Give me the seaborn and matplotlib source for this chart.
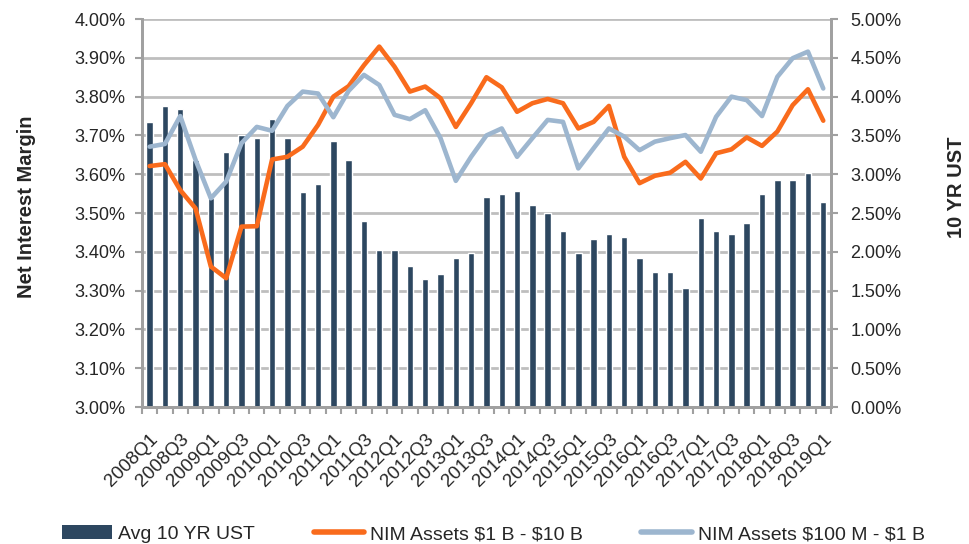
import numpy as np
import pandas as pd
import seaborn as sns
from matplotlib import pyplot as plt
from matplotlib.lines import Line2D
from matplotlib.patches import Patch
from matplotlib.ticker import FixedLocator, FuncFormatter, MultipleLocator

# quarterly data, 2008Q1 - 2019Q1
quarters = [f"{y}Q{q}" for y in range(2008, 2020) for q in range(1, 5)][:45]

ust = [
    3.67, 3.88, 3.84, 3.18, 2.69, 3.29, 3.50, 3.47, 3.71, 3.47,
    2.77, 2.88, 3.43, 3.18, 2.40, 2.02, 2.02, 1.82, 1.65, 1.71,
    1.92, 1.99, 2.71, 2.74, 2.78, 2.60, 2.50, 2.27, 1.99, 2.16,
    2.23, 2.19, 1.92, 1.74, 1.74, 1.54, 2.43, 2.27, 2.23, 2.37,
    2.74, 2.92, 2.92, 3.02, 2.64,
]

nim_large = [
    3.621, 3.626, 3.559, 3.512, 3.362, 3.332, 3.465, 3.466, 3.638, 3.645,
    3.671, 3.727, 3.800, 3.827, 3.881, 3.929, 3.877, 3.813, 3.826, 3.796,
    3.722, 3.783, 3.850, 3.824, 3.761, 3.783, 3.794, 3.783, 3.718, 3.735,
    3.776, 3.645, 3.577, 3.596, 3.604, 3.632, 3.589, 3.654, 3.664, 3.695,
    3.673, 3.710, 3.778, 3.819, 3.738,
]

nim_small = [
    3.671, 3.678, 3.750, 3.637, 3.538, 3.581, 3.680, 3.722, 3.712, 3.776,
    3.813, 3.808, 3.747, 3.815, 3.856, 3.830, 3.753, 3.742, 3.765, 3.693,
    3.583, 3.645, 3.700, 3.718, 3.645, 3.693, 3.740, 3.735, 3.615, 3.667,
    3.718, 3.697, 3.662, 3.684, 3.693, 3.701, 3.658, 3.748, 3.800, 3.791,
    3.750, 3.851, 3.899, 3.916, 3.821,
]

BAR_C = "#2D4760"
ORANGE = "#F96B1C"
BLUE = "#9DB6CF"
GRID_C = "#BEBEBE"
SPINE_C = "#A0A0A0"

df = pd.DataFrame(
    {
        "Quarter": quarters,
        "UST": ust,
        "NIM large": nim_large,
        "NIM small": nim_small,
    }
)

sns.set_theme(style="white")
plt.rcParams["font.family"] = ["Liberation Sans", "DejaVu Sans"]

fig = plt.figure(figsize=(9.69, 5.44), dpi=100)
ax = fig.add_axes([0.1465, 0.2518, 0.711, 0.7132])
ax2 = ax.twinx()

# bars on the right axis, drawn behind the lines
sns.barplot(data=df, x="Quarter", y="UST", color=BAR_C, width=0.42,
            saturation=1, ax=ax2)
sns.lineplot(data=df, x="Quarter", y="NIM large", color=ORANGE,
             lw=3.3, sort=False, ax=ax)
sns.lineplot(data=df, x="Quarter", y="NIM small", color=BLUE,
             lw=3.3, sort=False, ax=ax)
ax.set_zorder(ax2.get_zorder() + 1)
ax.patch.set_visible(False)

ax.set_xlim(-0.5, len(quarters) - 0.5)
ax.set_ylim(3.0, 4.0)
ax2.set_ylim(0, 5.0)

ax.yaxis.set_major_locator(MultipleLocator(0.1))
ax2.yaxis.set_major_locator(MultipleLocator(0.5))
ax.yaxis.set_major_formatter(FuncFormatter(lambda v, p: f"{v:.2f}%"))
ax2.yaxis.set_major_formatter(FuncFormatter(lambda v, p: f"{v:.2f}%"))

ax2.grid(axis="y", color=GRID_C, lw=2)
ax.grid(False)
ax2.set_axisbelow(True)

pos = np.arange(len(quarters))
ax.xaxis.set_major_locator(FixedLocator(pos[::2]))
ax.set_xticklabels(quarters[::2], rotation=45, ha="right",
                   rotation_mode="anchor", fontsize=13.5)
ax.xaxis.set_minor_locator(FixedLocator(np.arange(-0.5, len(quarters), 1)))
ax.tick_params(axis="x", which="major", length=0, pad=17)
ax.tick_params(axis="x", which="minor", length=5, width=1.5, color=SPINE_C,
               direction="out", bottom=True)

ax.tick_params(axis="y", length=5, width=1.5, color=SPINE_C, pad=7,
               labelsize=13, left=True)
ax2.tick_params(axis="y", length=5, width=1.5, color=SPINE_C, pad=9,
                labelsize=13, right=True)

for a in (ax, ax2):
    a.spines["top"].set_visible(False)
    for s in ("left", "right", "bottom"):
        a.spines[s].set_color(SPINE_C)
        a.spines[s].set_linewidth(2)

ax.set_xlabel("")
ax2.set_xlabel("")
ax.set_ylabel("Net Interest Margin", fontweight="bold", fontsize=14.5)
ax.yaxis.set_label_coords(-0.154, 0.515)
ax2.set_ylabel("10 YR UST", fontweight="bold", fontsize=14.5, rotation=90)
ax2.yaxis.set_label_coords(1.168, 0.567)

handles = [
    Patch(facecolor=BAR_C, edgecolor="none"),
    Line2D([], [], color=ORANGE, lw=4),
    Line2D([], [], color=BLUE, lw=4),
]
labels = ["Avg 10 YR UST", "NIM Assets \\$1 B - \\$10 B",
          "NIM Assets \\$100 M - \\$1 B"]
fig.legend(handles, labels, loc="center", bbox_to_anchor=(0.509, 0.018),
           ncol=3, frameon=False, fontsize=14, handlelength=2.6,
           handletextpad=0.3, columnspacing=3.0)

fig.savefig("out.png", dpi=100)
